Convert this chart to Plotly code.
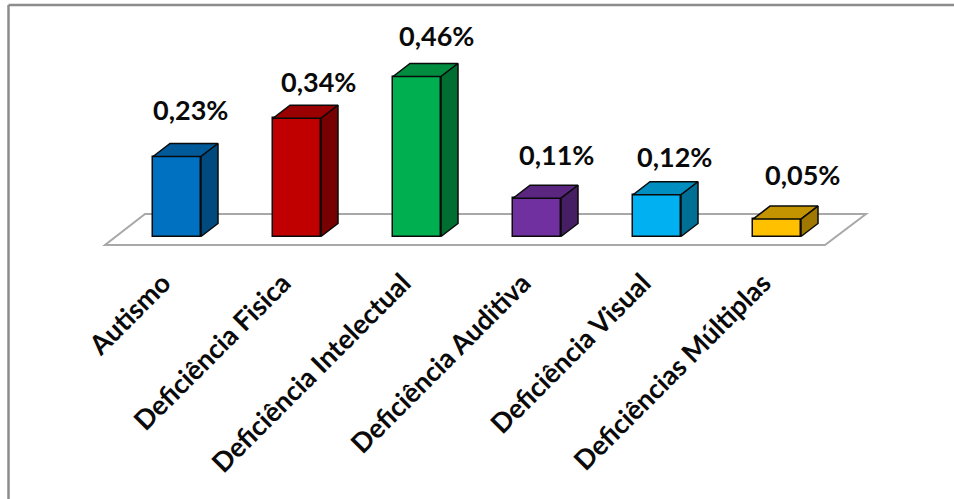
import plotly.graph_objects as go

# Share of enrolments by type of disability (percent)
categories = ["Autismo", "Deficiência Fisica", "Deficiência Intelectual",
              "Deficiência Auditiva", "Deficiência Visual", "Deficiências Múltiplas"]
values = [0.23, 0.34, 0.46, 0.11, 0.12, 0.05]

front_colors = ["#0070C0", "#C00000", "#00B050", "#7030A0", "#00B0F0", "#FFC000"]
top_colors = ["#005A9A", "#9A0000", "#008D40", "#5A2680", "#008DC0", "#C49400"]
side_colors = ["#004A80", "#770000", "#006E31", "#461E64", "#006F96", "#A07800"]

# Pixel scale of the data axes
W, H = 954, 499
PX_PER_CAT = 120
PX_PER_UNIT = 347.8
X0_PX, Y0_PX = 177, 236.5
BOTTOM_PX = 250

BAR_W = 48 / PX_PER_CAT
DX = 17 / PX_PER_CAT       # oblique depth of each column
DY = 13 / PX_PER_UNIT

fig = go.Figure()

fig.add_trace(go.Bar(
    x=list(range(len(values))), y=values, width=BAR_W,
    marker=dict(color=front_colors, line=dict(color="#0a0a0a", width=1.5)),
    hoverinfo="skip", showlegend=False,
))

# Oblique top and side faces of each column
for i, v in enumerate(values):
    l, r = i - BAR_W / 2, i + BAR_W / 2
    fig.add_trace(go.Scatter(
        x=[l, r, r + DX, l + DX, l], y=[v, v, v + DY, v + DY, v],
        mode="lines", fill="toself", fillcolor=top_colors[i],
        line=dict(color="#0a0a0a", width=1.5), hoverinfo="skip", showlegend=False,
    ))
    fig.add_trace(go.Scatter(
        x=[r, r + DX, r + DX, r, r], y=[0, DY, v + DY, v, 0],
        mode="lines", fill="toself", fillcolor=side_colors[i],
        line=dict(color="#0a0a0a", width=1.5), hoverinfo="skip", showlegend=False,
    ))

def to_x(px):
    return (px - X0_PX) / PX_PER_CAT

def to_y(px):
    return (Y0_PX - px) / PX_PER_UNIT

# Floor of the 3D plot
floor_path = (f"M {to_x(105)} {to_y(245)} L {to_x(825)} {to_y(245)} "
              f"L {to_x(866)} {to_y(214)} L {to_x(145)} {to_y(214)} Z")

frame = dict(color="#8C8C8C", width=2.5)
shapes = [
    dict(type="path", path=floor_path, xref="x", yref="y", layer="below",
         line=dict(color="#A8A8A8", width=2), fillcolor="white"),
    # Chart frame: top and left edges only
    dict(type="line", xref="paper", yref="paper", x0=8.5 / W, x1=1, y0=1, y1=1, line=frame),
    dict(type="line", xref="paper", yref="paper", x0=8.5 / W, x1=8.5 / W,
         y0=-(H - BOTTOM_PX) / (BOTTOM_PX - 5), y1=1, line=frame),
]

label_shift = [(13, 47), (21, 37), (19, 41), (19, 44), (17, 38), (25, 45)]
annotations = [
    dict(x=i, y=v, text=f"{v:.2f}%".replace(".", ","), showarrow=False,
         xshift=dx, yshift=dy, xanchor="center", yanchor="middle",
         font=dict(family="Lato", size=27, color="#0a0a0a", weight="bold"))
    for i, (v, (dx, dy)) in enumerate(zip(values, label_shift))
]

fig.update_layout(
    width=W, height=H, margin=dict(l=0, r=0, t=5, b=H - BOTTOM_PX, autoexpand=False),
    paper_bgcolor="white", plot_bgcolor="white",
    bargap=0, shapes=shapes, annotations=annotations,
    xaxis=dict(
        range=[to_x(0), to_x(W)], tickmode="array",
        tickvals=list(range(len(categories))), ticktext=categories,
        tickangle=-45, ticks="", showline=False, showgrid=False, zeroline=False,
        ticklabelstandoff=11, ticklabelshift=-14,
        tickfont=dict(family="Lato", size=27, color="#0a0a0a", weight="bold"),
    ),
    yaxis=dict(range=[to_y(BOTTOM_PX), to_y(5)], visible=False),
)

fig.write_html("out.html")
